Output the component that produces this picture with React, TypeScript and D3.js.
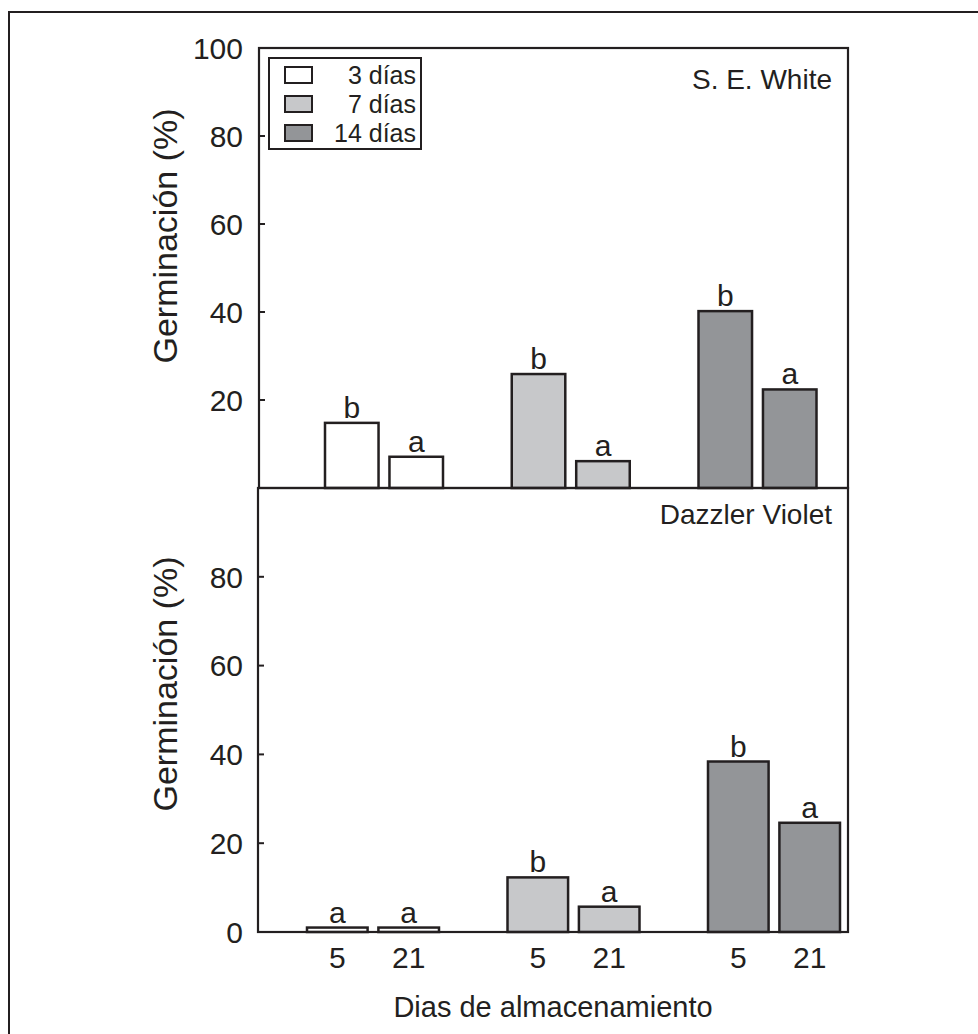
import React, { useRef, useEffect } from "react";
import * as d3 from "d3";

// chart values
const groups = ["3 días", "7 días", "14 días"];
const storageDays = ["5", "21"];
const groupFills = ["#ffffff", "#c7c8ca", "#939598"];

const seWhiteValues = [
  [14.8, 7.1],
  [25.9, 6.1],
  [40.2, 22.4],
];
const seWhiteLetters = [
  ["b", "a"],
  ["b", "a"],
  ["b", "a"],
];
const dazzlerValues = [
  [1, 1],
  [12.3, 5.7],
  [38.4, 24.6],
];
const dazzlerLetters = [
  ["a", "a"],
  ["b", "a"],
  ["b", "a"],
];
const topTicks = [20, 40, 60, 80, 100];
const bottomTicks = [0, 20, 40, 60, 80];

const INK = "#231f20";
const FONT = "'Liberation Sans', Arial, Helvetica, sans-serif";

const App = () => {
  const ref = useRef(null);

  useEffect(() => {
    const svg = d3.select(ref.current);
    svg.selectAll("*").remove();

    // outer figure frame (open to the right and bottom, as cropped)
    svg.append("line").attr("x1", 8).attr("x2", 978).attr("y1", 12).attr("y2", 12)
      .attr("stroke", INK).attr("stroke-width", 2);
    svg.append("line").attr("x1", 9).attr("x2", 9).attr("y1", 12).attr("y2", 1034)
      .attr("stroke", INK).attr("stroke-width", 2);

    const panels = [
      {
        name: "S. E. White",
        values: seWhiteValues,
        letters: seWhiteLetters,
        ticks: topTicks,
        left: 259, right: 848, top: 48, bottom: 488,
        centers: [384, 757.5], barSpan: 59, gap: 10,
        titleY: 236, nameY: 89, showDays: false, legend: true,
      },
      {
        name: "Dazzler Violet",
        values: dazzlerValues,
        letters: dazzlerLetters,
        ticks: bottomTicks,
        left: 258, right: 848, top: 488, bottom: 932,
        centers: [373, 774], barSpan: 66, gap: 10,
        titleY: 684, nameY: 524, showDays: true, legend: false,
      },
    ];

    panels.forEach((p) => {
      const g = svg.append("g");
      const y = d3.scaleLinear().domain([0, 100]).range([p.bottom, p.top]);
      const xGroup = d3.scalePoint().domain(groups).range(p.centers);
      const step = p.barSpan;
      const xBar = d3.scaleBand().domain(storageDays)
        .range([-p.barSpan, p.barSpan])
        .paddingInner(p.gap / step).paddingOuter(0);

      // bars
      groups.forEach((grp, gi) => {
        storageDays.forEach((d, di) => {
          const v = p.values[gi][di];
          const x = xGroup(grp) + xBar(d);
          g.append("rect")
            .attr("x", x)
            .attr("y", y(v))
            .attr("width", xBar.bandwidth())
            .attr("height", y(0) - y(v))
            .attr("fill", groupFills[gi])
            .attr("stroke", INK)
            .attr("stroke-width", 2.5);
          g.append("text")
            .attr("x", x + xBar.bandwidth() / 2)
            .attr("y", y(v) - 5)
            .attr("text-anchor", "middle")
            .attr("font-size", 30)
            .attr("font-family", FONT)
            .attr("fill", INK)
            .text(p.letters[gi][di]);
          if (p.showDays) {
            g.append("text")
              .attr("x", x + xBar.bandwidth() / 2)
              .attr("y", 968)
              .attr("text-anchor", "middle")
              .attr("font-size", 30)
              .attr("font-family", FONT)
              .attr("fill", INK)
              .text(d);
          }
        });
      });

      // panel box
      g.append("rect")
        .attr("x", p.left).attr("y", p.top)
        .attr("width", p.right - p.left).attr("height", p.bottom - p.top)
        .attr("fill", "none").attr("stroke", INK).attr("stroke-width", 2.2);

      // y ticks, pointing inward
      p.ticks.forEach((t) => {
        g.append("line")
          .attr("x1", p.left).attr("x2", p.left + 6)
          .attr("y1", y(t)).attr("y2", y(t))
          .attr("stroke", INK).attr("stroke-width", 2);
        g.append("text")
          .attr("x", 243).attr("y", y(t))
          .attr("dy", "0.36em")
          .attr("text-anchor", "end")
          .attr("font-size", 30)
          .attr("font-family", FONT)
          .attr("fill", INK)
          .text(t);
      });

      // y axis title
      g.append("text")
        .attr("transform", `translate(177,${p.titleY}) rotate(-90)`)
        .attr("text-anchor", "middle")
        .attr("font-size", 34)
        .attr("font-family", FONT)
        .attr("fill", INK)
        .text("Germinación (%)");

      // cultivar name
      g.append("text")
        .attr("x", 832).attr("y", p.nameY)
        .attr("text-anchor", "end")
        .attr("font-size", 28)
        .attr("font-family", FONT)
        .attr("fill", INK)
        .text(p.name);

      if (p.legend) {
        const lg = g.append("g");
        lg.append("rect")
          .attr("x", 269).attr("y", 58).attr("width", 152).attr("height", 91)
          .attr("fill", "#ffffff").attr("stroke", INK).attr("stroke-width", 2);
        const rowY = d3.scalePoint().domain(groups).range([75, 133]);
        groups.forEach((grp, gi) => {
          lg.append("rect")
            .attr("x", 285).attr("y", rowY(grp) - 8)
            .attr("width", 27).attr("height", 16)
            .attr("fill", groupFills[gi]).attr("stroke", INK).attr("stroke-width", 2);
          lg.append("text")
            .attr("x", 416).attr("y", rowY(grp))
            .attr("dy", "0.36em")
            .attr("text-anchor", "end")
            .attr("font-size", 25)
            .attr("font-family", FONT)
            .attr("fill", INK)
            .text(grp);
        });
      }
    });

    // x axis title
    svg.append("text")
      .attr("x", 553).attr("y", 1017)
      .attr("text-anchor", "middle")
      .attr("font-size", 29)
      .attr("font-family", FONT)
      .attr("fill", INK)
      .text("Dias de almacenamiento");
  }, []);

  return (
    <svg
      ref={ref}
      width={978}
      height={1034}
      style={{ position: "absolute", left: 0, top: 0, background: "#ffffff" }}
    />
  );
};

export default App;
